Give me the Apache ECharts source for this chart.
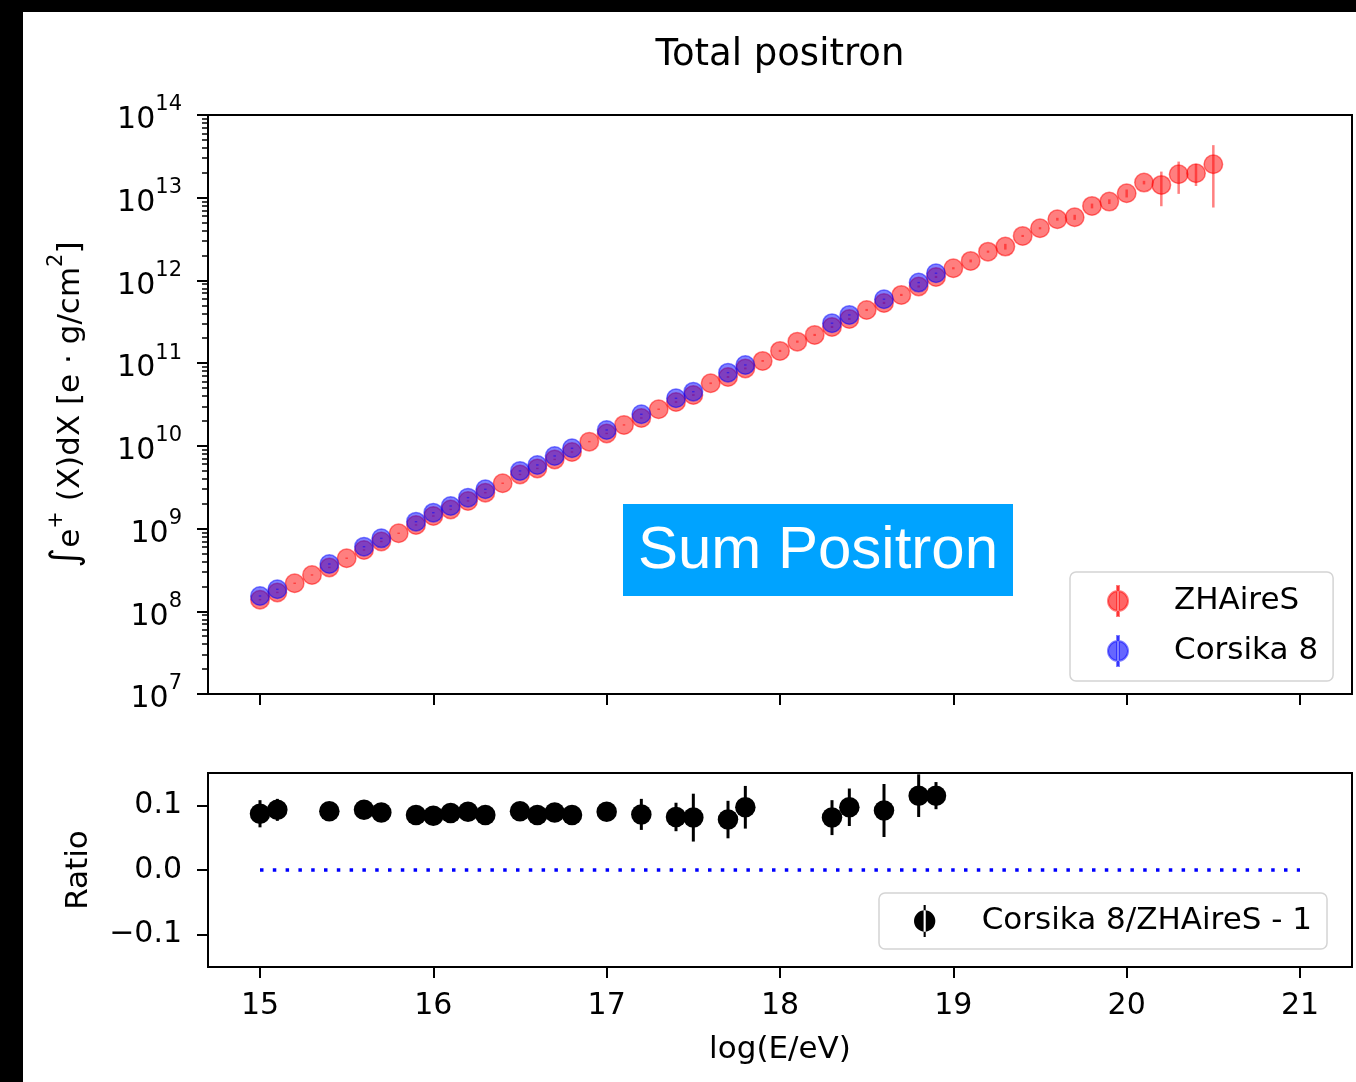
<!DOCTYPE html>
<html><head><meta charset="utf-8">
<script src="https://cdn.jsdelivr.net/npm/echarts@6/dist/echarts.min.js"></script>
<style>
html,body{margin:0;padding:0;background:#fff;}
#wrap{position:relative;width:1356px;height:1082px;background:#fff;overflow:hidden;}
.band{position:absolute;background:#000;}
#chart{position:absolute;left:0;top:0;width:1356px;height:1082px;}
</style></head><body>
<div id="wrap">
<div class="band" style="left:0;top:0;width:1356px;height:12px"></div>
<div class="band" style="left:0;top:0;width:23px;height:1082px"></div>
<div id="chart"></div>
</div>
<script>
// ---------- data ----------
const energyZH = [15.0,15.1,15.2,15.3,15.4,15.5,15.6,15.7,15.8,15.9,
                  16.0,16.1,16.2,16.3,16.4,16.5,16.6,16.7,16.8,16.9,
                  17.0,17.1,17.2,17.3,17.4,17.5,17.6,17.7,17.8,17.9,
                  18.0,18.1,18.2,18.3,18.4,18.5,18.6,18.7,18.8,18.9,
                  19.0,19.1,19.2,19.3,19.4,19.5,19.6,19.7,19.8,19.9,
                  20.0,20.1,20.2,20.3,20.4,20.5];
const zhaires = [1.38e8,1.69e8,2.18e8,2.75e8,3.39e8,4.38e8,5.51e8,6.98e8,8.77e8,1.107e9,
                 1.419e9,1.702e9,2.158e9,2.716e9,3.532e9,4.508e9,5.333e9,6.855e9,8.433e9,1.125e10,
                 1.413e10,1.791e10,2.173e10,2.773e10,3.388e10,4.121e10,5.715e10,6.808e10,8.63e10,1.064e11,
                 1.406e11,1.82e11,2.193e11,2.742e11,3.428e11,4.395e11,5.346e11,6.683e11,8.453e11,1.102e12,
                 1.403e12,1.722e12,2.228e12,2.564e12,3.451e12,4.276e12,5.495e12,5.808e12,7.96e12,8.97e12,
                 1.132e13,1.524e13,1.429e13,1.923e13,1.977e13,2.541e13];
const zhairesErr = [2.8e6,3.4e6,4.4e6,5.5e6,6.8e6,8.8e6,1.1e7,1.4e7,1.75e7,2.2e7,
                    2.8e7,3.4e7,4.3e7,5.4e7,7.1e7,9.0e7,1.07e8,1.37e8,1.69e8,2.25e8,
                    2.8e8,3.6e8,4.3e8,5.5e8,8.5e8,1.0e9,1.4e9,1.7e9,2.2e9,2.7e9,
                    4.2e9,5.5e9,6.6e9,8.2e9,1.0e10,1.3e10,1.6e10,2.0e10,2.5e10,3.3e10,
                    4.2e10,6.9e10,6.7e10,2.05e11,1.0e11,1.3e11,2.2e11,4.1e11,5.3e11,5.9e11,
                    1.25e12,7.6e11,6.4e12,8.1e12,5.9e12,1.78e13];

const energyC8 = [15.0,15.1,15.4,15.6,15.7,15.9,16.0,16.1,16.2,16.3,
                  16.5,16.6,16.7,16.8,17.0,17.2,17.4,17.5,17.7,17.8,
                  18.3,18.4,18.6,18.8,18.9];
const corsika8 = [1.531e8,1.845e8,3.733e8,6.039e8,7.621e8,1.211e9,1.556e9,1.875e9,2.366e9,2.985e9,
                  4.977e9,5.875e9,7.551e9,9.354e9,1.556e10,2.41e10,3.758e10,4.519e10,7.674e10,9.506e10,
                  3.041e11,3.828e11,5.929e11,9.419e11,1.222e12];
const corsika8Err = [3.1e6,3.7e6,7.5e6,1.2e7,1.5e7,2.4e7,3.1e7,3.8e7,4.7e7,6.0e7,
                     1.0e8,1.2e8,1.5e8,1.9e8,3.1e8,4.8e8,7.5e8,9.0e8,1.5e9,1.9e9,
                     6.1e9,7.7e9,1.2e10,1.9e10,2.4e10];

const ratio = [0.087,0.093,0.091,0.093,0.089,0.085,0.084,0.088,0.090,0.085,
               0.091,0.085,0.089,0.085,0.090,0.086,0.082,0.081,0.078,0.097,
               0.081,0.097,0.092,0.115,0.115];
const ratioErr = [0.021,0.017,0.010,0.010,0.010,0.010,0.010,0.010,0.010,0.010,
                  0.010,0.010,0.010,0.010,0.012,0.024,0.022,0.037,0.029,0.033,
                  0.027,0.029,0.041,0.033,0.021];

const refLineX = [15, 21];
const xTicks = [15, 16, 17, 18, 19, 20, 21];
const yMajorTicks = [1e7, 1e8, 1e9, 1e10, 1e11, 1e12, 1e13, 1e14];
const minorMantissas = [2, 3, 4, 5, 6, 7, 8, 9];
const minorDecades = [1e7, 1e8, 1e9, 1e10, 1e11, 1e12, 1e13];
const ratioTicks = [-0.1, 0.0, 0.1];

// ---------- styling ----------
const FONT = 'DejaVu Sans';
const X_MIN = 14.7, X_MAX = 21.3;
const yMinorTicks = minorDecades.flatMap(d => minorMantissas.map(m => m * d));

const RED = 'rgba(255,0,0,0.5)';
const BLUE = 'rgba(0,0,255,0.5)';
const ICON = 'path://M11,0h2v30h-2z M2,15a10,10 0 1,0 20,0a10,10 0 1,0 -20,0z';

function errorBars(name, xs, ys, errs, color, width, xi, yi, z) {
  return {
    type: 'custom', name: name, xAxisIndex: xi, yAxisIndex: yi, z: z, silent: true,
    data: xs.map((x, i) => [x, ys[i] - errs[i], ys[i] + errs[i]]),
    encode: { x: 0, y: [1, 2] },
    renderItem: function (params, api) {
      const lo = api.coord([api.value(0), api.value(1)]);
      const hi = api.coord([api.value(0), api.value(2)]);
      return { type: 'line', shape: { x1: lo[0], y1: lo[1], x2: hi[0], y2: hi[1] },
               style: { stroke: color, lineWidth: width } };
    }
  };
}

const axisLineStyle = { color: '#000', width: 2 };
const tickStyle = { color: '#000', width: 2 };

const option = {
  animation: false,
  backgroundColor: 'transparent',
  title: {
    text: 'Total positron', left: 780, top: 37, textAlign: 'center', padding: 0,
    textStyle: { fontFamily: FONT, fontSize: 37, fontWeight: 'normal', color: '#000' }
  },
  grid: [
    { left: 208, top: 115, width: 1144, height: 579, show: true, borderColor: '#000', borderWidth: 2, backgroundColor: 'transparent' },
    { left: 208, top: 773, width: 1144, height: 194, show: true, borderColor: '#000', borderWidth: 2, backgroundColor: 'transparent' }
  ],
  xAxis: [
    { gridIndex: 0, type: 'value', min: X_MIN, max: X_MAX,
      axisLine: { show: true, onZero: false, lineStyle: axisLineStyle },
      axisTick: { show: true, customValues: xTicks, length: 11, lineStyle: tickStyle },
      axisLabel: { show: false }, splitLine: { show: false } },
    { gridIndex: 1, type: 'value', min: X_MIN, max: X_MAX,
      axisLine: { show: true, onZero: false, lineStyle: axisLineStyle },
      axisTick: { show: true, customValues: xTicks, length: 11, lineStyle: tickStyle },
      axisLabel: { show: true, customValues: xTicks, margin: 24, fontSize: 30, fontFamily: FONT, color: '#000' },
      splitLine: { show: false },
      name: 'log(E/eV)', nameLocation: 'middle', nameGap: 67,
      nameTextStyle: { fontFamily: FONT, fontSize: 31, color: '#000' } }
  ],
  yAxis: [
    { gridIndex: 0, type: 'log', logBase: 10, min: 1e7, max: 1e14, position: 'left',
      axisLine: { show: true, onZero: false, lineStyle: axisLineStyle },
      axisTick: { show: true, customValues: yMajorTicks, length: 11, lineStyle: tickStyle },
      axisLabel: { show: true, customValues: yMajorTicks, margin: 26, color: '#000',
        formatter: v => '{b|10}{e|' + Math.round(Math.log10(v)) + '}',
        rich: { b: { fontFamily: FONT, fontSize: 30, color: '#000', padding: [11, 0, 0, 0], verticalAlign: 'bottom' },
                e: { fontFamily: FONT, fontSize: 21, color: '#000', verticalAlign: 'top' } } },
      splitLine: { show: false }, minorTick: { show: false },
      name: '{i|\u222B}{t|e}{s|+}{t| (X)dX [e \u00B7 g/cm}{s|2}{t|]}',
      nameLocation: 'middle', nameRotate: 90, nameGap: 122,
      nameTextStyle: { fontFamily: FONT, fontSize: 31, color: '#000',
        rich: { i: { fontFamily: FONT, fontSize: 38, color: '#000', verticalAlign: 'bottom' },
                t: { fontFamily: FONT, fontSize: 31, color: '#000', padding: [9, 0, 0, 0], verticalAlign: 'bottom' },
                s: { fontFamily: FONT, fontSize: 21, color: '#000', verticalAlign: 'top' } } } },
    { gridIndex: 0, type: 'log', logBase: 10, min: 1e7, max: 1e14, position: 'left', offset: 0,
      axisLine: { show: false },
      axisTick: { show: true, customValues: yMinorTicks, length: 6, lineStyle: { color: '#000', width: 1.5 } },
      axisLabel: { show: false }, splitLine: { show: false } },
    { gridIndex: 1, type: 'value', min: -0.15, max: 0.15, position: 'left',
      axisLine: { show: true, onZero: false, lineStyle: axisLineStyle },
      axisTick: { show: true, customValues: ratioTicks, length: 11, lineStyle: tickStyle },
      axisLabel: { show: true, customValues: ratioTicks, margin: 26, fontSize: 30, fontFamily: FONT, color: '#000',
        formatter: v => (v < 0 ? '\u2212' : '') + Math.abs(v).toFixed(1) },
      splitLine: { show: false },
      name: 'Ratio', nameLocation: 'middle', nameRotate: 90, nameGap: 114,
      nameTextStyle: { fontFamily: FONT, fontSize: 31, color: '#000' } }
  ],
  legend: [
    { orient: 'vertical', left: 1070, top: 572, itemWidth: 20, itemHeight: 30, itemGap: 18,
      padding: [13, 15, 14, 37], borderColor: '#d4d4d4', borderWidth: 1.5, borderRadius: 6,
      backgroundColor: 'rgba(255,255,255,0.8)', selectedMode: false,
      textStyle: { fontFamily: FONT, fontSize: 31, color: '#000', padding: [0, 0, 0, 41] },
      data: [ { name: 'ZHAireS', icon: ICON, itemStyle: { color: 'rgba(255,0,0,0.6)' } },
              { name: 'Corsika 8', icon: ICON, itemStyle: { color: 'rgba(0,0,255,0.6)' } } ] },
    { orient: 'vertical', left: 879, top: 893, itemWidth: 22, itemHeight: 32, itemGap: 10,
      padding: [12, 15, 12, 35], borderColor: '#d4d4d4', borderWidth: 1.5, borderRadius: 6,
      backgroundColor: 'rgba(255,255,255,0.8)', selectedMode: false,
      textStyle: { fontFamily: FONT, fontSize: 31, color: '#000', padding: [0, 0, 0, 41] },
      data: [ { name: 'Corsika 8/ZHAireS - 1', icon: ICON, itemStyle: { color: '#000' } } ] }
  ],
  graphic: [
    { type: 'group', left: 623, top: 504, silent: true, children: [
      { type: 'rect', shape: { x: 0, y: 0, width: 390, height: 92 }, style: { fill: '#00A3FF' } },
      { type: 'text', x: 195, y: 47.5, style: { text: 'Sum Positron', fill: '#fff',
        font: '60px "Liberation Sans", Arial, sans-serif', textAlign: 'center', textVerticalAlign: 'middle' } }
    ] }
  ],
  series: [
    { name: 'ZHAireS', type: 'scatter', xAxisIndex: 0, yAxisIndex: 0, z: 2, silent: true,
      symbol: 'circle', symbolSize: 18.5,
      itemStyle: { color: RED, borderColor: RED, borderWidth: 1.5, opacity: 1 },
      data: energyZH.map((x, i) => [x, zhaires[i]]) },
    errorBars('ZHAireS err', energyZH, zhaires, zhairesErr, RED, 2.5, 0, 0, 3),
    { name: 'Corsika 8', type: 'scatter', xAxisIndex: 0, yAxisIndex: 0, z: 4, silent: true,
      symbol: 'circle', symbolSize: 18.5,
      itemStyle: { color: BLUE, borderColor: BLUE, borderWidth: 1.5, opacity: 1 },
      data: energyC8.map((x, i) => [x, corsika8[i]]) },
    errorBars('Corsika 8 err', energyC8, corsika8, corsika8Err, BLUE, 2.5, 0, 0, 5),
    { name: 'zero', type: 'line', xAxisIndex: 1, yAxisIndex: 2, z: 2, silent: true,
      symbol: 'none', lineStyle: { color: '#0000ff', width: 3.5, type: [3.5, 9.3], cap: 'butt' },
      data: refLineX.map(x => [x, 0]) },
    { name: 'Corsika 8/ZHAireS - 1', type: 'scatter', xAxisIndex: 1, yAxisIndex: 2, z: 3, silent: true,
      symbol: 'circle', symbolSize: 20.5, itemStyle: { color: '#000', opacity: 1 },
      data: energyC8.map((x, i) => [x, ratio[i]]) },
    errorBars('ratio err', energyC8, ratio, ratioErr, '#000', 3, 1, 2, 4)
  ]
};

const chart = echarts.init(document.getElementById('chart'), null, { renderer: 'canvas' });
chart.setOption(option);
</script>
</body></html>
